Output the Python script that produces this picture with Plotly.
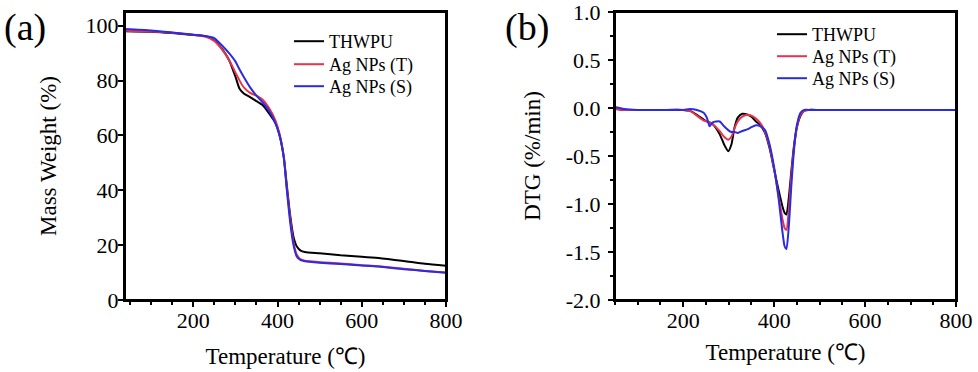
import plotly.graph_objects as go

# ---------------- data ----------------
series_names = ["THWPU", "Ag NPs (T)", "Ag NPs (S)"]
series_colors = ["#000000", "#e8334f", "#2b2be0"]

# (a) TGA
tga_temp = [38, 100, 150, 200, 230, 250, 270, 285, 300, 310, 320, 335, 350, 365, 380,
            395, 405, 415, 422, 430, 438, 446, 455, 465, 500, 550, 600, 640, 700, 750, 800]
tga_thwpu = [98.0, 97.8, 97.3, 96.6, 96.2, 94.6, 91.2, 87.5, 81.5, 77.0, 75.3, 74.0, 72.5, 71.0, 68.0,
             64.5, 60.0, 52.0, 42.0, 31.0, 23.0, 19.5, 18.0, 17.5, 17.0, 16.3, 15.8, 15.3, 14.2, 13.2, 12.5]
tga_ag_t = [98.2, 97.9, 97.4, 96.7, 96.0, 94.4, 91.0, 87.5, 83.0, 80.0, 77.5, 75.5, 74.5, 73.0, 70.0,
            65.5, 60.5, 52.0, 41.0, 30.0, 21.0, 16.5, 14.8, 14.3, 13.8, 13.3, 12.7, 12.3, 11.4, 10.6, 10.0]
tga_ag_s = [98.8, 98.3, 97.5, 96.7, 96.2, 95.5, 92.5, 90.0, 87.0, 84.0, 81.3, 77.5, 74.5, 72.0, 69.0,
            64.5, 60.0, 52.0, 40.5, 28.5, 20.0, 15.8, 14.5, 14.1, 13.6, 13.1, 12.6, 12.2, 11.2, 10.6, 9.9]

# (b) DTG
dtg_temp = [50, 70, 100, 150, 200, 215, 230, 245, 252, 258, 265, 280, 290, 299, 306, 313, 320, 330,
            342, 350, 360, 370, 380, 390, 400, 410, 418, 423, 427, 432, 438, 444, 450, 458, 466,
            475, 500, 600, 700, 800]
dtg_thwpu = [-0.01, -0.02, -0.02, -0.02, -0.02, -0.03, -0.07, -0.12, -0.14, -0.15, -0.17, -0.27, -0.38,
             -0.45, -0.38, -0.20, -0.10, -0.06, -0.07, -0.09, -0.14, -0.18, -0.26, -0.42, -0.64, -0.86,
             -1.02, -1.09, -1.11, -0.95, -0.65, -0.38, -0.20, -0.08, -0.03, -0.02, -0.02, -0.02, -0.02, -0.02]
dtg_ag_t = [-0.01, -0.02, -0.02, -0.02, -0.02, -0.03, -0.08, -0.13, -0.14, -0.15, -0.17, -0.24, -0.30,
            -0.33, -0.30, -0.21, -0.14, -0.09, -0.07, -0.08, -0.11, -0.16, -0.25, -0.40, -0.64, -0.92,
            -1.15, -1.25, -1.27, -1.08, -0.70, -0.40, -0.20, -0.07, -0.03, -0.02, -0.02, -0.02, -0.02, -0.02]
dtg_ag_s = [0.01, -0.01, -0.02, -0.02, -0.02, -0.01, -0.02, -0.05, -0.10, -0.19, -0.15, -0.14, -0.19,
            -0.23, -0.25, -0.25, -0.26, -0.24, -0.22, -0.20, -0.18, -0.19, -0.23, -0.38, -0.62, -0.95,
            -1.28, -1.44, -1.47, -1.25, -0.80, -0.42, -0.18, -0.05, -0.02, -0.02, -0.02, -0.02, -0.02, -0.02]

dtg_tickvals = [-2.0, -1.5, -1.0, -0.5, 0.0, 0.5, 1.0]
dtg_ticktext = ["-2.0", "-1.5", "-1.0", "-0.5", "0.0", "0.5", "1.0"]

# ---------------- layout helpers ----------------
FONT = "Times New Roman, Liberation Serif, serif"
W, H = 978, 372


def px(x):
    return x / W


def py(y):
    return 1 - y / H


fig = go.Figure()

tga_series = [tga_thwpu, tga_ag_t, tga_ag_s]
dtg_series = [dtg_thwpu, dtg_ag_t, dtg_ag_s]
legend_rows_a = [40, 63, 85]
legend_rows_b = [33, 55, 77]
legend_layout = {}
for i, (name, color, ys) in enumerate(zip(series_names, series_colors, tga_series)):
    key = "legend" if i == 0 else f"legend{i + 1}"
    fig.add_trace(go.Scatter(x=tga_temp, y=ys, name=name, mode="lines",
                             line=dict(color=color, width=2, shape="spline", smoothing=0.6),
                             xaxis="x", yaxis="y", legend=key))
    legend_layout[key] = dict(x=px(289), y=py(legend_rows_a[i] - 17), xanchor="left", yanchor="top",
                              bgcolor="rgba(0,0,0,0)", font=dict(family=FONT, size=18, color="black"),
                              itemwidth=30)
for i, (name, color, ys) in enumerate(zip(series_names, series_colors, dtg_series)):
    key = f"legend{i + 4}"
    fig.add_trace(go.Scatter(x=dtg_temp, y=ys, name=name, mode="lines",
                             line=dict(color=color, width=2, shape="spline", smoothing=0.6),
                             xaxis="x2", yaxis="y2", legend=key))
    legend_layout[key] = dict(x=px(772), y=py(legend_rows_b[i] - 17), xanchor="left", yanchor="top",
                              bgcolor="rgba(0,0,0,0)", font=dict(family=FONT, size=18, color="black"),
                              itemwidth=30)

ydom = [py(300), py(12)]

axis_common = dict(showline=True, linecolor="black", linewidth=2, mirror=True,
                   ticks="outside", ticklen=5, tickwidth=1.5, tickcolor="black",
                   showgrid=False, zeroline=False, automargin=False,
                   ticklabeloverflow="allow",
                   tickfont=dict(family=FONT, size=22, color="black"),
                   title_font=dict(family=FONT, size=23, color="black"))
minor_x = dict(dtick=50, tick0=0, ticklen=3, ticks="outside", tickcolor="black")

# plot-area frames (drawn on top of the axes domain so the box is always closed)
frames = [
    dict(type="rect", xref="x domain", yref="y domain", x0=0, x1=1, y0=0, y1=1,
         line=dict(color="black", width=2), fillcolor="rgba(0,0,0,0)", layer="above"),
    dict(type="rect", xref="x2 domain", yref="y2 domain", x0=0, x1=1, y0=0, y1=1,
         line=dict(color="black", width=2), fillcolor="rgba(0,0,0,0)", layer="above"),
]

fig.update_layout(
    width=W, height=H,
    margin=dict(l=0, r=0, t=0, b=0, autoexpand=False),
    paper_bgcolor="white", plot_bgcolor="white",
    font=dict(family=FONT, color="black"),
    showlegend=True,
    shapes=frames,
    xaxis=dict(domain=[px(125), px(446)], range=[38, 800], tick0=0, dtick=200, minor=minor_x,
               ticklabelstandoff=-5,
               title=dict(text="Temperature (℃)", standoff=15), anchor="y", **axis_common),
    yaxis=dict(domain=ydom, range=[0, 105], tick0=0, dtick=20, ticklabelstandoff=-5,
               title=dict(text="Mass Weight (%)", standoff=23), anchor="x", **axis_common),
    xaxis2=dict(domain=[px(615), px(956)], range=[50, 800], tick0=0, dtick=200, minor=minor_x,
                ticklabelstandoff=-5,
                title=dict(text="Temperature (℃)", standoff=11), anchor="y2", **axis_common),
    yaxis2=dict(domain=ydom, range=[-2, 1], tickmode="array", tickvals=dtg_tickvals,
                ticktext=dtg_ticktext, ticklabelstandoff=3,
                minor=dict(tickmode="linear", tick0=0, dtick=0.25, ticklen=3, ticks="outside",
                           tickcolor="black"),
                title=dict(text="DTG (%/min)", standoff=19), anchor="x2", **axis_common),
    annotations=[
        dict(text="(a)", x=px(25), y=py(27), xref="paper", yref="paper", showarrow=False,
             xanchor="center", yanchor="middle", font=dict(family=FONT, size=38, color="black")),
        dict(text="(b)", x=px(527), y=py(27), xref="paper", yref="paper", showarrow=False,
             xanchor="center", yanchor="middle", font=dict(family=FONT, size=38, color="black")),
    ],
    **legend_layout,
)

# remove the default page margin so the figure fills the window exactly
fig.write_html("out.html", config={"displayModeBar": False},
               post_script="document.body.style.margin='0';document.body.style.overflow='hidden';")
